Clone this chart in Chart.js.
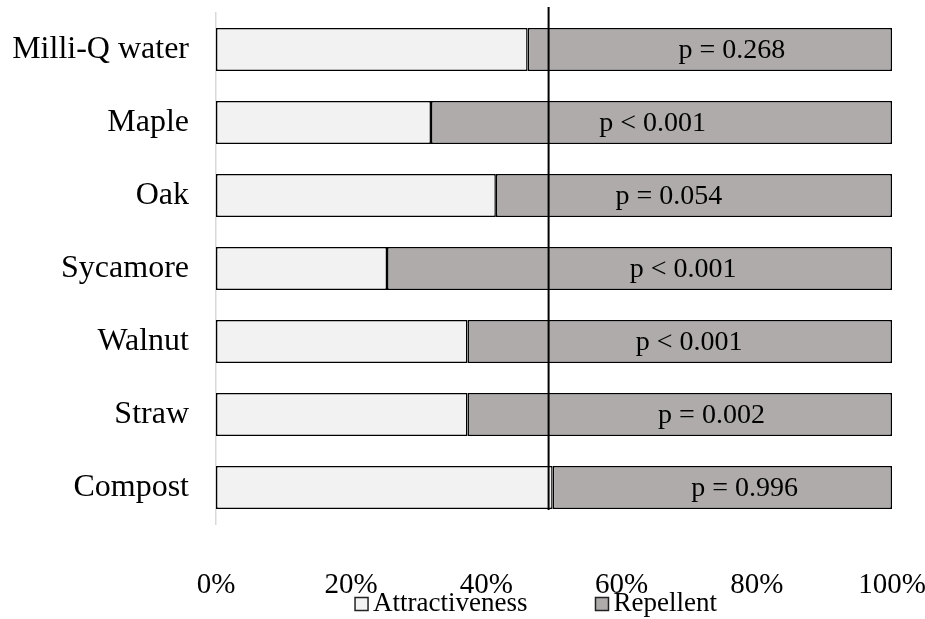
<!DOCTYPE html>
<html>
<head>
<meta charset="utf-8">
<script src="https://cdn.jsdelivr.net/npm/chart.js@4"></script>
<style>
    html, body { margin: 0; padding: 0; background: #fff; }
    #wrap { width: 925px; height: 619px; }
</style>
</head>
<body>
<div id="wrap"><canvas id="prefChart"></canvas></div>
<script>
// Chart data
const treatments = ['Milli-Q water', 'Maple', 'Oak', 'Sycamore', 'Walnut', 'Straw', 'Compost'];
const attractiveness = [46.1, 31.8, 41.4, 25.3, 37.2, 37.2, 49.8];
const repellent = [53.9, 68.2, 58.6, 74.7, 62.8, 62.8, 50.2];
const pValues = ['p = 0.268', 'p < 0.001', 'p = 0.054', 'p < 0.001', 'p < 0.001', 'p = 0.002', 'p = 0.996'];
const pLabelAt = [76.3, 64.6, 67.0, 69.1, 70.0, 73.3, 78.2];  // where each p label sits (in % units)
const xTicks = [0, 20, 40, 60, 80, 100];
const refLine = 49.2;  // vertical reference line

const serif = '"Liberation Serif", "Times New Roman", serif';

// Draws the p values, the reference line and the legend
const extrasPlugin = {
    id: 'extras',
    afterDatasetsDraw(chart) {
        const ctx = chart.ctx;
        const x = chart.scales.x;
        const bars = chart.getDatasetMeta(1).data;

        ctx.save();
        ctx.fillStyle = '#000';
        ctx.font = '28px ' + serif;
        ctx.textAlign = 'center';
        ctx.textBaseline = 'middle';
        bars.forEach((bar, i) => {
            ctx.fillText(pValues[i], x.getPixelForValue(pLabelAt[i]), bar.y + 1);
        });

        // vertical line
        const last = bars[bars.length - 1];
        const lx = x.getPixelForValue(refLine);
        ctx.strokeStyle = '#000';
        ctx.lineWidth = 2;
        ctx.beginPath();
        ctx.moveTo(lx, chart.chartArea.top - 6);
        ctx.lineTo(lx, last.y + last.height / 2 + 1);
        ctx.stroke();
        ctx.restore();
    },
    afterDraw(chart) {
        const ctx = chart.ctx;
        const sets = chart.data.datasets;
        const box = 13, gapText = 5, gapItem = 68;
        const cy = 604;
        ctx.save();
        ctx.font = '27px ' + serif;
        ctx.textBaseline = 'middle';
        const widths = sets.map(ds => box + gapText + ctx.measureText(ds.label).width);
        const total = widths.reduce((a, b) => a + b, 0) + gapItem * (sets.length - 1);
        let lx = 536 - total / 2;
        sets.forEach((ds, i) => {
            ctx.fillStyle = ds.backgroundColor;
            ctx.fillRect(lx, cy - box / 2, box, box);
            ctx.strokeStyle = '#222';
            ctx.lineWidth = 1.5;
            ctx.strokeRect(lx, cy - box / 2, box, box);
            ctx.fillStyle = '#000';
            ctx.fillText(ds.label, lx + box + gapText, cy);
            lx += widths[i] + gapItem;
        });
        ctx.restore();
    }
};

new Chart(document.getElementById('prefChart'), {
    type: 'bar',
    data: {
        labels: treatments,
        datasets: [{
            label: 'Attractiveness',
            data: attractiveness,
            backgroundColor: '#f2f2f2',
            borderColor: '#000',
            borderWidth: 1.5,
            borderSkipped: false
        }, {
            label: 'Repellent',
            data: repellent,
            backgroundColor: '#afabab',
            borderColor: '#000',
            borderWidth: 1.5,
            borderSkipped: false
        }]
    },
    options: {
        indexAxis: 'y',
        responsive: true,
        maintainAspectRatio: false,
        animation: false,
        devicePixelRatio: 1,
        layout: { padding: { top: 13, right: 33, bottom: 0, left: 0 } },
        datasets: { bar: { categoryPercentage: 1, barPercentage: 0.59 } },
        plugins: {
            legend: { display: false },
            tooltip: { enabled: false }
        },
        scales: {
            x: {
                stacked: true,
                min: 0,
                max: 100,
                afterBuildTicks: axis => { axis.ticks = xTicks.map(v => ({ value: v })); },
                afterFit: axis => {
                    axis.height = 95;
                    axis.paddingLeft = 0;
                    axis.paddingRight = 0;
                },
                grid: { display: false, drawTicks: false },
                border: { display: false },
                ticks: {
                    color: '#000',
                    padding: 44,
                    maxRotation: 0,
                    font: { family: serif, size: 29 },
                    callback: v => v + '%'
                }
            },
            y: {
                stacked: true,
                afterFit: axis => {
                    axis.width = 216;
                    axis.paddingTop = 0;
                    axis.paddingBottom = 0;
                },
                grid: { display: false, drawTicks: false },
                border: { display: true, color: '#d9d9d9', width: 1.5 },
                ticks: {
                    color: '#000',
                    padding: 27,
                    font: { family: serif, size: 32 }
                }
            }
        }
    },
    plugins: [extrasPlugin]
});
</script>
</body>
</html>
